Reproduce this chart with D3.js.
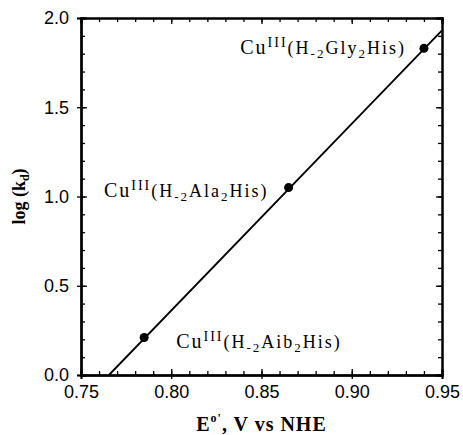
<!DOCTYPE html>
<html>
<head>
<meta charset="utf-8">
<script src="https://cdn.jsdelivr.net/npm/d3@7"></script>
<style>
  body { margin: 0; background: #fff; }
  .tick text { font-family: "Liberation Sans", Arial, sans-serif; }
  .serif { font-family: "Liberation Serif", "Times New Roman", serif; }
</style>
</head>
<body>
<div id="chart"></div>
<script>
// measured points
const potentials = [0.785, 0.865, 0.94];
const logKd = [0.21, 1.05, 1.83];
const ligands = ["Aib", "Ala", "Gly"];

// least squares line as drawn (end points)
const fitE = [0.7655, 0.95];
const fitLogK = [0, 1.93];

const xTicks = [0.75, 0.80, 0.85, 0.90, 0.95];
const yTicks = [0.0, 0.5, 1.0, 1.5, 2.0];

// set the dimensions and margins of the graph
const margin = {top: 18, right: 21, bottom: 60, left: 81},
    width = 463 - margin.left - margin.right,
    height = 435 - margin.top - margin.bottom;

const svg = d3.select("#chart")
  .append("svg")
    .attr("width", width + margin.left + margin.right)
    .attr("height", height + margin.top + margin.bottom)
  .append("g")
    .attr("transform", `translate(${margin.left},${margin.top})`);

const x = d3.scaleLinear().domain([0.75, 0.95]).range([0, width]);
const y = d3.scaleLinear().domain([0, 2]).range([height, 0]);

const minorX = d3.range(75, 96).map(v => v / 100);
const minorY = d3.range(0, 21).map(v => v / 10);

function styleAxis(g) {
  g.select(".domain").attr("stroke", "#000").attr("stroke-width", 2);
  g.selectAll(".tick line").attr("stroke", "#000").attr("stroke-width", 1.3);
  g.selectAll(".tick text").attr("fill", "#000").attr("font-size", 18);
}

// bottom axis: labels + outward part of major ticks
svg.append("g")
  .attr("transform", `translate(0,${height})`)
  .call(d3.axisBottom(x).tickValues(xTicks).tickFormat(d3.format(".2f")).tickSize(4).tickPadding(6))
  .call(styleAxis);
// inward major + minor ticks, bottom
svg.append("g")
  .attr("transform", `translate(0,${height})`)
  .call(d3.axisBottom(x).tickValues(xTicks).tickFormat("").tickSize(-6))
  .call(styleAxis);
svg.append("g")
  .attr("transform", `translate(0,${height})`)
  .call(d3.axisBottom(x).tickValues(minorX).tickFormat("").tickSize(-4))
  .call(styleAxis);

// top axis, inward ticks only
svg.append("g")
  .call(d3.axisTop(x).tickValues(xTicks).tickFormat("").tickSize(-6))
  .call(styleAxis);
svg.append("g")
  .call(d3.axisTop(x).tickValues(minorX).tickFormat("").tickSize(-4))
  .call(styleAxis);

// left axis
svg.append("g")
  .call(d3.axisLeft(y).tickValues(yTicks).tickFormat(d3.format(".1f")).tickSize(4).tickPadding(8))
  .call(styleAxis);
svg.append("g")
  .call(d3.axisLeft(y).tickValues(yTicks).tickFormat("").tickSize(-6))
  .call(styleAxis);
svg.append("g")
  .call(d3.axisLeft(y).tickValues(minorY).tickFormat("").tickSize(-4))
  .call(styleAxis);

// right axis
svg.append("g")
  .attr("transform", `translate(${width},0)`)
  .call(d3.axisRight(y).tickValues(yTicks).tickFormat("").tickSize(-6))
  .call(styleAxis);
svg.append("g")
  .attr("transform", `translate(${width},0)`)
  .call(d3.axisRight(y).tickValues(minorY).tickFormat("").tickSize(-4))
  .call(styleAxis);

// fitted line
const fit = fitE.map((e, i) => ({e: e, k: fitLogK[i]}));
svg.append("path")
  .datum(fit)
  .attr("fill", "none")
  .attr("stroke", "#000")
  .attr("stroke-width", 1.8)
  .attr("d", d3.line().x(d => x(d.e)).y(d => y(d.k)));

// data points
const pts = potentials.map((e, i) => ({e: e, k: logKd[i], lig: ligands[i]}));
svg.selectAll("circle.pt")
  .data(pts)
  .join("circle")
    .attr("class", "pt")
    .attr("cx", d => x(d.e))
    .attr("cy", d => y(d.k))
    .attr("r", 4.5)
    .attr("fill", "#000");

// labels  Cu^III(H-2 Xxx2 His)
const labelPos = {
  Aib: {anchor: "start", dx: 32, dy: 10},
  Ala: {anchor: "end", dx: -20, dy: 9},
  Gly: {anchor: "end", dx: -18, dy: 6}
};
const lab = svg.selectAll("text.lab")
  .data(pts)
  .join("text")
    .attr("class", "lab serif")
    .attr("x", d => x(d.e) + labelPos[d.lig].dx)
    .attr("y", d => y(d.k) + labelPos[d.lig].dy)
    .attr("text-anchor", d => labelPos[d.lig].anchor)
    .attr("font-size", 18)
    .attr("letter-spacing", 2)
    .attr("fill", "#000");
lab.each(function(d) {
  const t = d3.select(this);
  t.append("tspan").attr("font-size", 20).text("Cu");
  t.append("tspan").attr("font-size", 14).attr("dy", -7).text("III");
  t.append("tspan").attr("font-size", 18).attr("dy", 7).text("(H");
  t.append("tspan").attr("font-size", 13).attr("dy", 4).text("-2");
  t.append("tspan").attr("font-size", 18).attr("dy", -4).text(d.lig);
  t.append("tspan").attr("font-size", 13).attr("dy", 4).text("2");
  t.append("tspan").attr("font-size", 18).attr("dy", -4).text("His)");
});

// x axis title
const xt = svg.append("text")
  .attr("class", "serif")
  .attr("x", width / 2)
  .attr("y", height + 56)
  .attr("text-anchor", "middle")
  .attr("font-weight", "bold")
  .attr("letter-spacing", 1)
  .attr("font-size", 20);
xt.append("tspan").text("E");
xt.append("tspan").attr("font-size", 12).attr("dy", -9).text("o'");
xt.append("tspan").attr("dy", 9).text(", V vs NHE");

// y axis title
const yt = svg.append("text")
  .attr("class", "serif")
  .attr("transform", `translate(${25 - margin.left},${height / 2}) rotate(-90)`)
  .attr("text-anchor", "middle")
  .attr("font-weight", "bold")
  .attr("font-size", 18);
yt.append("tspan").text("log (k");
yt.append("tspan").attr("font-size", 12).attr("dy", 4).text("d");
yt.append("tspan").attr("dy", -4).text(")");
</script>
</body>
</html>
